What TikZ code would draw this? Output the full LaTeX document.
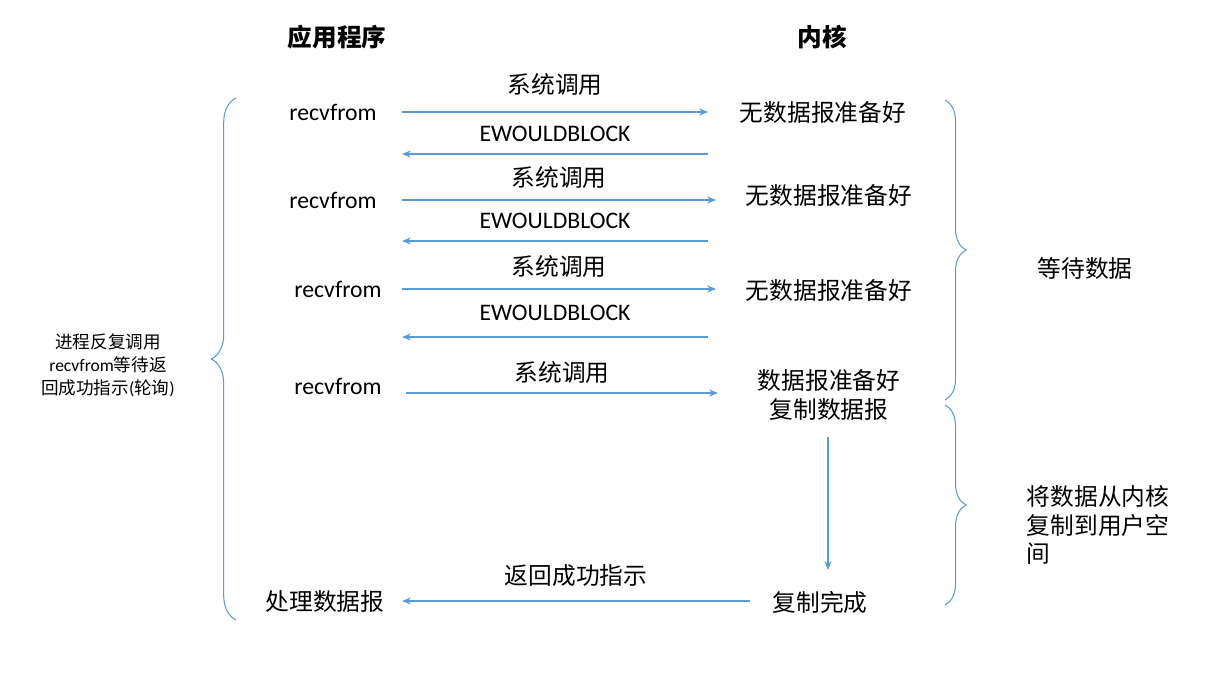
\documentclass[tikz,border=0pt]{standalone}
\usepackage{fontspec}
\setmainfont{Carlito}
\newfontfamily\cjk{Noto Sans CJK SC}
\usetikzlibrary{decorations.pathreplacing,arrows.meta}
\definecolor{ln}{RGB}{91,155,213}
\begin{document}
\begin{tikzpicture}[x=0.02cm,y=-0.02cm,
  t/.style={font=\fontsize{13.5}{16}\selectfont, inner sep=0pt},
  c/.style={t, font=\fontsize{13.5}{16}\selectfont\cjk},
  ar/.style={draw=ln, line width=0.6pt, -{Stealth[length=5pt,width=4pt]}},
  br/.style={draw=ln, line width=0.6pt, decorate, decoration={brace, amplitude=12pt}}]
\useasboundingbox (0,0) rectangle (1218,676);
\node[c, font=\fontsize{14}{16}\selectfont\cjk\bfseries] (h1) at (337,37) {应用程序};
\node[c, font=\fontsize{14}{16}\selectfont\cjk\bfseries] (h2) at (822,37) {内核};
% row 1
\node[t] (a1) at (333,112) {recvfrom};
\node[c] (k1) at (823,112) {无数据报准备好};
\coordinate (a1r) at (402,112); \coordinate (k1l) at (708,112);
\draw[ar] (a1r) -- node[c, above=9pt] {系统调用} (k1l);
\coordinate (b1r) at (708,154); \coordinate (b1l) at (402,154);
\draw[ar] (b1r) -- node[t, above=7pt] {EWOULDBLOCK} (b1l);
% row 2
\node[t] (a2) at (333,200) {recvfrom};
\node[c] (k2) at (829,195) {无数据报准备好};
\coordinate (a2r) at (402,200); \coordinate (k2l) at (716,200);
\draw[ar] (a2r) -- node[c, above=6pt] {系统调用} (k2l);
\coordinate (b2r) at (708,241); \coordinate (b2l) at (402,241);
\draw[ar] (b2r) -- node[t, above=7pt] {EWOULDBLOCK} (b2l);
% row 3
\node[t] (a3) at (338,289) {recvfrom};
\node[c] (k3) at (829,290) {无数据报准备好};
\coordinate (a3r) at (402,289); \coordinate (k3l) at (716,289);
\draw[ar] (a3r) -- node[c, above=6pt] {系统调用} (k3l);
\coordinate (b3r) at (708,337); \coordinate (b3l) at (402,337);
\draw[ar] (b3r) -- node[t, above=9pt] {EWOULDBLOCK} (b3l);
% row 4
\node[t] (a4) at (338,386) {recvfrom};
\node[c, align=center] (k4) at (829,395) {数据报准备好\\复制数据报};
\coordinate (a4r) at (406,393); \coordinate (k4l) at (718,393);
\draw[ar] (a4r) -- node[c, above=5pt] {系统调用} (k4l);
% done
\node[c] (k5) at (820,602) {复制完成};
\node[c] (a5) at (325,602) {处理数据报};
\coordinate (v1) at (828,437); \coordinate (v2) at (828,570);
\draw[ar] (v1) -- (v2);
\coordinate (r1) at (750,601); \coordinate (r2) at (402,601);
\draw[ar] (r1) -- node[c, above=8pt] {返回成功指示} (r2);
% braces
\coordinate (lb1) at (236,620); \coordinate (lb2) at (236,98);
\draw[br, decoration={amplitude=14pt}] (lb1) -- (lb2);
\node[align=center, inner sep=0pt, font=\fontsize{10}{13}\selectfont] (lt) at (108,365) {{\cjk 进程反复调用}\\recvfrom{\cjk 等待返}\\{\cjk 回成功指示}({\cjk 轮询})};
\coordinate (rb1) at (945,100); \coordinate (rb2) at (945,400);
\draw[br] (rb1) -- (rb2);
\coordinate (rb3) at (945,405); \coordinate (rb4) at (945,605);
\draw[br] (rb3) -- (rb4);
\node[c] (w) at (1085,268) {等待数据};
\node[c, align=left] (cp) at (1098,525) {将数据从内核\\复制到用户空\\间};
\end{tikzpicture}
\end{document}
